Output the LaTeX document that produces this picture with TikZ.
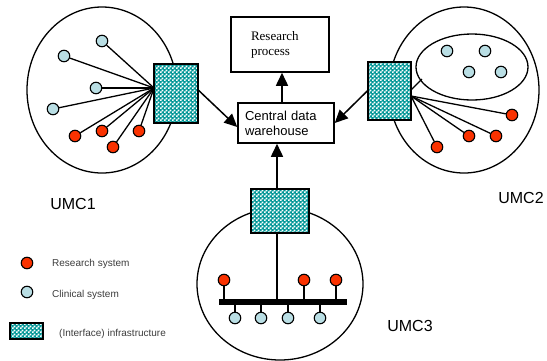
\documentclass[tikz,border=0pt]{standalone}
\usepackage{fontspec}
\setmainfont{Liberation Sans}
\newfontfamily\tnr{Liberation Serif}
\usetikzlibrary{arrows.meta,patterns,calc}
\pgfdeclarepatternformonly{finecheck}{\pgfpointorigin}{\pgfqpoint{4pt}{4pt}}{\pgfqpoint{4pt}{4pt}}{%
  \pgfpathrectangle{\pgfpointorigin}{\pgfqpoint{2pt}{2pt}}%
  \pgfpathrectangle{\pgfqpoint{2pt}{2pt}}{\pgfqpoint{2pt}{2pt}}%
  \pgfusepath{fill}}
\definecolor{tealc}{RGB}{0,150,150}
\definecolor{redc}{RGB}{250,50,0}
\definecolor{bluec}{RGB}{185,222,228}
\definecolor{legtext}{RGB}{60,60,60}
\tikzset{
  infra/.style={draw=black, line width=1.5pt, preaction={fill=tealc}, pattern=finecheck, pattern color=white, inner sep=0pt},
  rsys/.style={circle, draw=black, line width=1.1pt, fill=redc, minimum size=11.5pt, inner sep=0pt},
  csys/.style={circle, draw=black, line width=1.1pt, fill=bluec, minimum size=11.5pt, inner sep=0pt},
  umc/.style={draw=black, line width=1.3pt},
  link/.style={draw=black, line width=1.3pt},
  arr/.style={draw=black, line width=1.5pt, -{Triangle[length=13pt,width=12pt]}},
  wbox/.style={draw=black, line width=1.5pt, fill=white},
  umclabel/.style={font=\fontsize{16}{18}\selectfont, inner sep=0pt},
  legend/.style={font=\fontsize{10}{12}\selectfont, text=legtext, anchor=west, inner sep=0pt}
}
\begin{document}
\begin{tikzpicture}[x=1pt,y=-1pt]
\useasboundingbox (0,0) rectangle (547,360);
% UMC circles
\draw[umc] (102,90) ellipse [x radius=75, y radius=83];
\draw[umc] (464,90) ellipse [x radius=75, y radius=83];
\draw[umc] (472,67) ellipse [x radius=56, y radius=33];
\draw[umc] (280,284) ellipse [x radius=83, y radius=76];

% central boxes
\node[wbox, minimum width=98pt, minimum height=55pt, text width=58pt, align=left, font=\tnr\fontsize{13}{15}\selectfont] (rp) at (280,44.5) {Research\\process};
\node[wbox, minimum width=96pt, minimum height=40pt, text width=82pt, inner xsep=7pt, align=left, font=\fontsize{13}{15}\selectfont] (cdw) at (286,123) {Central data\\warehouse};

% UMC1
\node[infra, minimum width=44pt, minimum height=59pt] (b1) at (176,93.5) {};
\coordinate (f1) at (154,88);
\node[csys] (c11) at (102,41) {};
\node[csys] (c12) at (64,56) {};
\node[csys] (c13) at (96,88) {};
\node[csys] (c14) at (53,109) {};
\node[rsys] (r11) at (75,136) {};
\node[rsys] (r12) at (102,131) {};
\node[rsys] (r13) at (113,147) {};
\node[rsys] (r14) at (139,131) {};
\foreach \n in {c11,c12,c13,c14,r11,r12,r13,r14} \draw[link] (f1) -- (\n);
\node[umclabel] (l1) at (73,204) {UMC1};

% UMC2
\node[infra, minimum width=43pt, minimum height=58pt] (b2) at (389.5,91) {};
\coordinate (f2) at (411,96);
\coordinate (f2e) at (411,90);
\coordinate (e2) at (422,79);
\node[csys] (c21) at (447,51) {};
\node[csys] (c22) at (485,51) {};
\node[csys] (c23) at (469,72) {};
\node[csys] (c24) at (501,72) {};
\node[rsys] (r21) at (512,115) {};
\node[rsys] (r22) at (496,136) {};
\node[rsys] (r23) at (469,136) {};
\node[rsys] (r24) at (437,147) {};
\foreach \n in {r21,r22,r23,r24} \draw[link] (f2) -- (\n);
\draw[link] (f2e) -- (e2);
\node[umclabel] (l2) at (521,198) {UMC2};

% UMC3
\node[infra, minimum width=58pt, minimum height=44pt] (b3) at (280,211) {};
\coordinate (busL) at (219,302);
\coordinate (busR) at (347,302);
\draw[black, line width=6pt] (busL) -- (busR);
\coordinate (bt) at (277,233);
\draw[link] (bt) -- (bt |- busL);
\node[rsys] (r31) at (224,280) {};
\node[rsys] (r32) at (304,280) {};
\node[rsys] (r33) at (336,280) {};
\node[csys] (c31) at (235,318) {};
\node[csys] (c32) at (261,318) {};
\node[csys] (c33) at (288,318) {};
\node[csys] (c34) at (320,318) {};
\foreach \n in {r31,r32,r33,c31,c32,c33,c34} \draw[link] (\n) -- (\n |- busL);
\node[umclabel] (l3) at (410,326) {UMC3};

% arrows
\draw[arr] ([yshift=3pt]b1.east) -- ([yshift=-4pt]cdw.west);
\draw[arr] (b2.west) -- (cdw.east);
\draw[arr] ([xshift=-4pt]cdw.north) -- ([xshift=-4pt]cdw.north |- rp.south);
\draw[arr] ([xshift=-3pt]b3.north) -- ([xshift=-3pt]b3.north |- cdw.south);

% legend
\node[rsys] (lr) at (27,263) {};
\node[legend] (lrt) at (52,264) {Research system};
\node[csys] (lc) at (27,292) {};
\node[legend] (lct) at (52,295) {Clinical system};
\node[infra, line width=1.3pt, minimum width=33pt, minimum height=16pt] (lb) at (26.5,331) {};
\node[legend] (lbt) at (59,334) {(Interface) infrastructure};
\end{tikzpicture}
\end{document}
